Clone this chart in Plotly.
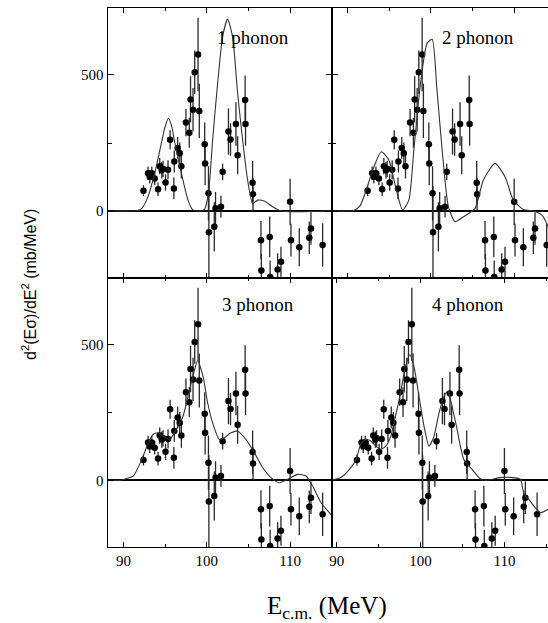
import plotly.graph_objects as go

# Measured second-derivative points (same data set drawn in every panel)
e_cm = [92.4, 92.95, 93.15, 93.4, 93.75, 94.15, 94.35, 94.6, 94.75, 95.05,
        95.35, 95.6, 96.05, 96.1, 96.5, 96.75, 96.95, 97.5, 97.9, 98.05,
        98.35, 98.55, 98.95, 99.1, 99.75, 99.8, 100.2, 100.25, 100.9, 101.05,
        101.7, 101.9, 102.6, 102.85, 103.5, 103.7, 104.6, 104.65, 105.5, 105.55,
        106.5, 106.55, 107.55, 107.6, 108.5, 108.9, 110.0, 110.1, 111.1, 112.3,
        112.5, 113.9]
d2 = [75, 139, 126, 139, 120, 80, 165, 150, 155, 105,
      152, 262, 83, 182, 232, 212, 165, 325, 288, 410,
      372, 510, 575, 368, 245, 175, 65, -78, -58, 10,
      16, 144, 292, 263, 320, 205, 408, 320, 104, 62,
      -107, -218, -95, -242, -215, -186, 34, -107, -133, -98,
      -64, -125]
d2_err = [20, 25, 25, 25, 25, 25, 30, 30, 30, 30,
          35, 35, 40, 40, 40, 40, 45, 50, 55, 85,
          80, 80, 135, 100, 80, 80, 100, 170, 90, 60,
          40, 30, 85, 60, 80, 70, 90, 80, 80, 60,
          70, 60, 75, 60, 60, 55, 85, 60, 70, 60,
          60, 80]

# Coupled-channels calculations
ph1_x = [88.1, 91.0, 91.7, 92.2, 92.95, 93.75, 94.55, 95.0, 95.4, 95.8, 96.1,
         96.95, 97.75, 98.3, 99.0, 99.7, 100.2, 100.7, 101.3, 101.9, 102.5,
         103.1, 103.7, 104.3, 104.9, 105.5, 106.1, 106.9, 107.9, 108.9, 115.0]
ph1_y = [0, 0, 2, 10, 53, 139, 249, 310, 341, 310, 261,
         139, 40, 5, 0, 5, 65, 261, 469, 641, 705,
         640, 433, 261, 114, 28, 40, 37, 16, 0, 0]

ph2_x = [88.1, 90.0, 90.77, 91.5, 92.17, 93.16, 94.04, 94.95, 95.76, 96.6,
         97.35, 97.95, 98.75, 99.55, 100.15, 100.7, 101.35, 102.1, 102.9, 103.9,
         105.3, 106.3, 107.7, 108.9, 109.9, 111.1, 112.3, 113.1, 113.5, 114.1]
ph2_y = [0, 0, 2, 20, 71, 163, 218, 188, 89, 4,
         40, 224, 469, 617, 631, 457, 224, 16, -39, -21,
         10, 114, 175, 126, 40, 6, 0, -10, -21, -60]

ph3_x = [88.1, 89.5, 90.15, 91.2, 92.2, 93.0, 93.55, 94.15, 94.75, 95.55,
         96.35, 97.15, 97.94, 98.54, 98.9, 99.55, 100.1, 100.7, 101.5, 102.1,
         102.9, 103.7, 104.7, 105.7, 106.7, 107.7, 108.7, 109.7, 110.9, 111.9,
         112.7, 113.7, 115.0]
ph3_y = [0, 0, 4, 16, 77, 139, 169, 175, 163, 151,
         188, 236, 335, 408, 442, 383, 286, 212, 151, 157,
         175, 181, 151, 102, 47, 10, -9, 4, 22, 16,
         -21, -82, -130]

ph4_x = [89.4, 90.5, 91.5, 92.3, 92.85, 93.45, 94.05, 94.65, 95.25, 95.85,
         96.45, 97.0, 97.6, 98.2, 98.7, 99.2, 99.8, 100.4, 101.0, 101.6,
         102.2, 102.8, 103.25, 103.75, 104.35, 105.15, 106.15, 107.1, 107.9, 109.5,
         110.9, 111.9, 112.3, 112.9, 113.5, 114.3, 115.2]
ph4_y = [0, 10, 40, 77, 132, 151, 145, 126, 114, 126,
         163, 236, 322, 420, 463, 420, 310, 200, 126, 163,
         249, 310, 328, 273, 188, 77, 40, 6, 0, 10,
         10, 4, -45, -70, -94, -119, -107]

panel_labels = ["1 phonon", "2 phonon", "3 phonon", "4 phonon"]
curves = [(ph1_x, ph1_y), (ph2_x, ph2_y), (ph3_x, ph3_y), (ph4_x, ph4_y)]

SERIF = "Liberation Serif"
SANS = "Liberation Sans"
W, H = 548, 623

fig = go.Figure()

axis_ids = ["", "2", "3", "4"]
for k, sfx in enumerate(axis_ids):
    xa, ya = "x" + sfx, "y" + sfx
    fig.add_trace(go.Scatter(
        x=e_cm, y=d2, mode="markers",
        marker=dict(symbol="circle", size=6.5, color="black"),
        error_y=dict(type="data", array=d2_err, visible=True,
                     color="#2a2a2a", thickness=1.3, width=0),
        xaxis=xa, yaxis=ya, showlegend=False, cliponaxis=True))
    cx, cy = curves[k]
    fig.add_trace(go.Scatter(
        x=cx, y=cy, mode="lines",
        line=dict(color="#333333", width=1.1, shape="spline", smoothing=0.6),
        xaxis=xa, yaxis=ya, showlegend=False))

# panel frames in pixels
xl = [106 / W, 331 / W]
xr = [331 / W, 1.0]
yt = [(H - 278) / H, (H - 8) / H]
yb = [(H - 547) / H, (H - 278) / H]

x_ranges = [[88.1, 115.0], [88.1, 114.06], [88.1, 115.0], [89.4, 115.2]]
x_domains = [xl, xr, xl, xr]
y_domains = [yt, yt, yb, yb]

tickfont = dict(family=SERIF, size=15, color="black")

layout = dict(
    width=W, height=H,
    margin=dict(l=0, r=0, t=0, b=0),
    paper_bgcolor="white", plot_bgcolor="white",
    showlegend=False,
)

for k, sfx in enumerate(axis_ids):
    key_x = "xaxis" + sfx
    key_y = "yaxis" + sfx
    right = k in (1, 3)
    bottom = k in (2, 3)
    layout[key_x] = dict(
        domain=x_domains[k], range=x_ranges[k], anchor="y" + sfx,
        showline=True, linecolor="black", linewidth=1.3, mirror="ticks",
        ticks="inside", ticklen=5, tickwidth=1, tickcolor="black",
        tick0=90, dtick=10,
        minor=dict(dtick=5, ticks="inside", ticklen=3, tickcolor="black"),
        showgrid=False, zeroline=False,
        showticklabels=bottom, tickfont=tickfont,
    )
    layout[key_y] = dict(
        domain=y_domains[k], range=[-246, 746], anchor="x" + sfx,
        showline=True, linecolor="black", linewidth=1.3,
        mirror=False if right else "ticks",
        ticks="inside", ticklen=6, tickwidth=1, tickcolor="black",
        tick0=0, dtick=500,
        minor=dict(dtick=250, ticks="inside", ticklen=4, tickcolor="black"),
        showgrid=False,
        zeroline=True, zerolinecolor="black", zerolinewidth=1.5,
        showticklabels=not right, tickfont=tickfont,
    )

fig.update_layout(**layout)

# panel labels (centre of each label, in data units)
label_pos = [(105.6, 636), (105.7, 636), (106.2, 647), (105.7, 647)]
for k, sfx in enumerate(axis_ids):
    lx, ly = label_pos[k]
    fig.add_annotation(
        x=lx, y=ly, xref="x" + sfx, yref="y" + sfx,
        text=panel_labels[k], showarrow=False,
        font=dict(family=SERIF, size=19, color="black"),
        xanchor="center", yanchor="middle")

# axis titles
fig.add_annotation(
    x=326 / W, y=1 - 607 / H, xref="paper", yref="paper",
    text="E<sub>c.m.</sub> (MeV)", showarrow=False,
    font=dict(family=SERIF, size=25, color="black"),
    xanchor="center", yanchor="middle")
fig.add_annotation(
    x=27 / W, y=1 - 284 / H, xref="paper", yref="paper",
    text="d<sup>2</sup>(Eσ)/dE<sup>2</sup> (mb/MeV)", showarrow=False,
    textangle=-90,
    font=dict(family=SANS, size=16, color="black"),
    xanchor="center", yanchor="middle")

fig.write_html("out.html")
